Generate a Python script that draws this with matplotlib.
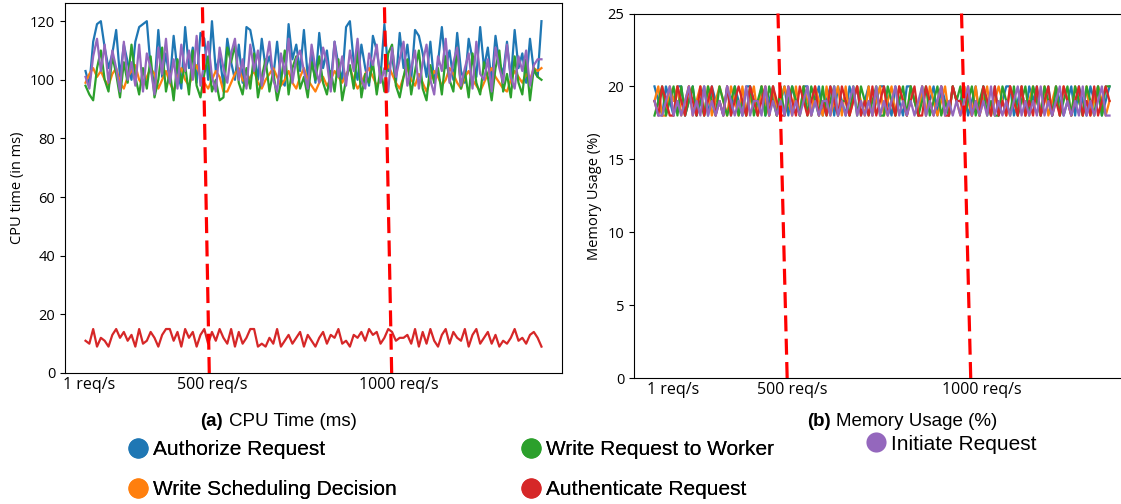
import matplotlib
matplotlib.use("Agg")
import matplotlib.pyplot as plt
from matplotlib.lines import Line2D
import numpy as np

# ── data ──────────────────────────────────────────────────────
SERIES = ["Authorize Request", "Write Scheduling Decision", "Write Request to Worker",
          "Authenticate Request", "Initiate Request"]
COLORS = ["#1f77b4", "#ff7f0e", "#2ca02c", "#d62728", "#9467bd"]

cpu_authorize = [
    103, 98, 113, 119, 120, 111, 104, 109, 117, 101, 112, 106, 100, 113, 118, 119, 120, 104, 98, 117,
    101, 109, 99, 115, 103, 97, 118, 104, 111, 99, 116, 114, 100, 120, 103, 108, 98, 114, 106, 100,
    112, 99, 118, 117, 110, 100, 114, 104, 108, 101, 113, 100, 98, 119, 107, 112, 103, 117, 101, 109,
    99, 116, 104, 110, 99, 113, 105, 100, 118, 120, 106, 100, 112, 104, 98, 115, 110, 101, 119, 103,
    108, 99, 116, 104, 112, 100, 117, 115, 109, 101, 113, 99, 106, 118, 104, 110, 100, 116, 103, 99,
    114, 107, 101, 118, 104, 111, 99, 115, 106, 102, 113, 100, 117, 104, 109, 99, 114, 103, 101, 120]
cpu_scheduling = [
    99, 102, 104, 101, 103, 100, 98, 102, 104, 99, 97, 101, 103, 105, 100, 98, 101, 104, 102, 97,
    100, 103, 99, 96, 101, 104, 100, 98, 102, 105, 101, 99, 97, 100, 103, 101, 96, 96, 99, 102,
    104, 100, 98, 101, 103, 99, 97, 100, 102, 104, 101, 98, 100, 103, 99, 97, 101, 104, 100, 98,
    96, 99, 101, 98, 100, 103, 101, 99, 102, 104, 100, 97, 99, 102, 104, 101, 98, 100, 103, 105,
    102, 99, 97, 101, 104, 100, 98, 102, 99, 96, 100, 103, 101, 98, 100, 104, 102, 99, 97, 101,
    103, 100, 98, 96, 99, 102, 104, 101, 99, 97, 96, 100, 103, 101, 99, 102, 100, 104, 103, 104]
cpu_worker = [
    98, 95, 93, 104, 110, 100, 96, 108, 102, 94, 106, 99, 112, 101, 95, 104, 97, 108, 94, 100,
    111, 96, 103, 93, 107, 99, 105, 95, 110, 98, 94, 102, 108, 96, 100, 93, 94, 111, 106, 112,
    99, 95, 104, 97, 109, 94, 101, 107, 96, 103, 93, 99, 110, 95, 104, 108, 97, 101, 94, 106,
    100, 108, 99, 95, 103, 96, 107, 93, 100, 105, 97, 110, 94, 102, 99, 106, 95, 104, 96, 109,
    112, 98, 94, 101, 107, 95, 103, 110, 97, 93, 105, 99, 104, 95, 108, 100, 96, 111, 97, 103,
    94, 109, 99, 95, 106, 101, 93, 104, 110, 96, 102, 94, 108, 99, 95, 107, 93, 104, 101, 100]
cpu_authenticate = [
    11, 10, 15, 9, 12, 11, 9, 13, 15, 12, 14, 11, 13, 9, 15, 10, 11, 14, 12, 9,
    13, 15, 15, 11, 14, 9, 15, 12, 14, 9, 13, 15, 10, 14, 11, 15, 12, 10, 15, 9,
    14, 10, 12, 15, 15, 9, 10, 9, 12, 10, 15, 9, 11, 13, 10, 12, 14, 9, 13, 11,
    9, 12, 14, 10, 13, 12, 15, 10, 11, 9, 13, 12, 14, 11, 15, 13, 14, 10, 12, 15,
    14, 11, 12, 12, 13, 10, 15, 9, 14, 10, 15, 11, 9, 13, 15, 10, 14, 12, 11, 15,
    9, 13, 15, 10, 12, 14, 10, 13, 9, 11, 10, 12, 15, 11, 12, 10, 13, 14, 12, 9]
cpu_initiate = [
    101, 97, 108, 114, 103, 112, 99, 110, 104, 96, 113, 100, 106, 98, 112, 96, 109, 104, 95, 111,
    102, 114, 99, 107, 97, 112, 103, 110, 100, 115, 98, 106, 113, 101, 96, 111, 104, 99, 109, 114,
    100, 107, 97, 112, 103, 110, 98, 105, 113, 100, 96, 109, 102, 114, 99, 107, 110, 103, 97, 112,
    104, 99, 111, 106, 96, 113, 101, 108, 98, 110, 103, 114, 100, 97, 109, 105, 112, 99, 104, 96,
    111, 101, 107, 113, 98, 104, 110, 97, 106, 112, 100, 95, 108, 103, 114, 99, 106, 111, 98, 104,
    109, 97, 113, 102, 100, 107, 96, 111, 104, 99, 112, 101, 97, 108, 103, 110, 98, 105, 107, 107]

mem_authorize = [
    20, 19, 18, 20, 19, 18, 20, 20, 18, 19, 20, 18, 19, 20, 18, 20, 19, 19, 18, 20,
    18, 20, 19, 18, 20, 20, 19, 18, 20, 18, 19, 20, 18, 19, 20, 18, 20, 19, 18, 20,
    20, 18, 19, 20, 18, 19, 20, 18, 20, 19, 18, 20, 19, 20, 18, 19, 20, 18, 19, 20,
    20, 19, 18, 20, 19, 18, 20, 20, 19, 18, 20, 18, 19, 20, 18, 20, 19, 18, 20, 19,
    19, 20, 18, 19, 20, 18, 20, 19, 18, 20, 18, 19, 20, 20, 18, 19, 20, 18, 20, 19,
    20, 18, 19, 20, 18, 20, 19, 18, 19, 20, 18, 20, 19, 18, 20, 19, 20, 18, 19, 20]
mem_scheduling = [
    19, 20, 18, 18, 20, 19, 20, 18, 19, 20, 18, 19, 20, 18, 20, 18, 19, 20, 19, 18,
    20, 19, 18, 20, 18, 19, 20, 18, 20, 19, 18, 20, 18, 19, 20, 19, 18, 20, 18, 20,
    19, 18, 20, 19, 18, 20, 18, 19, 20, 18, 20, 18, 19, 20, 19, 18, 20, 18, 19, 20,
    18, 19, 20, 18, 20, 19, 18, 20, 19, 18, 20, 18, 20, 19, 18, 19, 20, 18, 20, 19,
    18, 20, 19, 18, 20, 18, 19, 20, 18, 19, 20, 19, 18, 20, 19, 18, 20, 18, 19, 20,
    19, 18, 20, 18, 19, 20, 18, 20, 19, 18, 20, 19, 18, 20, 18, 19, 20, 19, 18, 19]
mem_worker = [
    18, 19, 20, 18, 19, 20, 18, 20, 18, 19, 20, 18, 19, 18, 20, 19, 18, 20, 19, 18,
    19, 20, 18, 19, 18, 20, 18, 19, 20, 18, 20, 19, 18, 20, 18, 19, 20, 19, 18, 20,
    18, 20, 19, 18, 20, 18, 19, 20, 18, 19, 19, 18, 20, 18, 20, 19, 18, 19, 20, 18,
    18, 20, 19, 18, 19, 20, 18, 20, 19, 18, 19, 20, 18, 19, 20, 18, 19, 18, 20, 19,
    20, 18, 19, 20, 18, 19, 20, 18, 19, 18, 18, 20, 19, 18, 20, 18, 19, 20, 18, 20,
    19, 18, 20, 19, 18, 20, 18, 19, 20, 18, 20, 19, 18, 20, 19, 18, 20, 18, 20, 20]
mem_authenticate = [
    19, 18, 20, 19, 18, 18, 20, 19, 18, 20, 19, 18, 20, 18, 19, 20, 18, 19, 18, 20,
    18, 19, 20, 19, 18, 20, 19, 18, 19, 20, 18, 20, 19, 18, 18, 20, 19, 18, 20, 19,
    18, 19, 20, 18, 19, 18, 20, 19, 18, 20, 19, 18, 19, 20, 18, 19, 18, 20, 18, 19,
    20, 18, 19, 18, 20, 19, 18, 19, 20, 18, 18, 20, 19, 18, 19, 20, 18, 18, 20, 19,
    19, 18, 20, 18, 19, 18, 20, 19, 18, 20, 18, 19, 18, 20, 19, 18, 20, 18, 19, 18,
    20, 18, 19, 20, 18, 19, 18, 20, 19, 18, 19, 20, 18, 19, 18, 20, 18, 19, 20, 19]
mem_initiate = [
    19, 18, 18, 19, 20, 18, 19, 18, 19, 20, 18, 19, 18, 20, 18, 19, 18, 19, 18, 20,
    19, 18, 19, 18, 20, 18, 19, 19, 18, 20, 18, 19, 18, 19, 18, 20, 18, 19, 18, 19,
    20, 18, 19, 18, 19, 19, 18, 20, 18, 19, 18, 19, 20, 18, 19, 18, 19, 18, 20, 18,
    19, 18, 19, 20, 18, 19, 18, 19, 18, 19, 20, 18, 19, 18, 19, 20, 18, 19, 18, 19,
    18, 19, 20, 18, 19, 18, 19, 18, 20, 18, 19, 18, 19, 18, 19, 20, 18, 19, 18, 19,
    18, 20, 18, 19, 18, 19, 20, 18, 19, 18, 19, 18, 20, 18, 19, 18, 19, 20, 18, 18]

cpu_data = [cpu_authorize, cpu_scheduling, cpu_worker, cpu_authenticate, cpu_initiate]
mem_data = [mem_authorize, mem_scheduling, mem_worker, mem_authenticate, mem_initiate]

# x tick labels and their sample positions
load_labels = ["1 req/s", "500 req/s", "1000 req/s"]
cpu_tick_pos = [1.0, 33.2, 81.8]
mem_tick_pos = [4.8, 36.0, 85.5]
# load-change markers (slanted as in the source): (x at bottom, x at top)
cpu_marks = [(32.3, 30.5), (79.9, 78.0)]
mem_marks = [(34.7, 32.3), (82.7, 80.3)]

TICK_FONT = ["Open Sans", "DejaVu Sans"]
TEXT_FONT = ["Liberation Sans", "DejaVu Sans"]

W, H = 1121, 504
fig = plt.figure(figsize=(W / 100, H / 100), dpi=100)


def px_axes(x0, y0, x1, y1):
    return fig.add_axes([x0 / W, 1 - y1 / H, (x1 - x0) / W, (y1 - y0) / H])


def style(ax, ylabel, series, tick_pos, ylim, marks):
    for vals, c in zip(series, COLORS):
        ax.plot(np.arange(len(vals)), vals, color=c, linewidth=1.6)
    ax.margins(x=0.045)
    ax.set_ylim(*ylim)
    for xb, xt in marks:
        ax.plot([xb, xt], list(ylim), color="red", linewidth=2.3,
                dashes=(5, 2.3), zorder=5, clip_on=False)
    ax.set_xticks(tick_pos)
    ax.set_xticklabels(load_labels, fontsize=11.5, family=TICK_FONT)
    ax.tick_params(axis="x", length=0, pad=3)
    ax.tick_params(axis="y", labelsize=10.5)
    for lbl in ax.get_yticklabels():
        lbl.set_family(TICK_FONT)
    ax.set_ylabel(ylabel, fontsize=10.5, family=TICK_FONT)


# ── (a) CPU time ──
ax1 = px_axes(65, 3, 562, 373)
style(ax1, "CPU time (in ms)", cpu_data, cpu_tick_pos, (0, 126.2), cpu_marks)
ax1.set_yticks([0, 20, 40, 60, 80, 100, 120])

# ── (b) Memory usage ──
ax2 = px_axes(634, 13.5, 1130, 378)
style(ax2, "Memory Usage (%)", mem_data, mem_tick_pos, (0, 25), mem_marks)
ax2.set_yticks([0, 5, 10, 15, 20, 25])

# captions
fig.text(200 / W, 1 - 421 / H, "(a)", fontsize=13.5, fontweight="bold", family=TEXT_FONT, va="center")
fig.text(229 / W, 1 - 421 / H, "CPU Time (ms)", fontsize=13.5, family=TEXT_FONT, va="center")
fig.text(807 / W, 1 - 421 / H, "(b)", fontsize=13.5, fontweight="bold", family=TEXT_FONT, va="center")
fig.text(836 / W, 1 - 421 / H, "Memory Usage (%)", fontsize=13.5, family=TEXT_FONT, va="center")

# legend
handles = [Line2D([], [], marker="o", linestyle="", markersize=14.5, markeredgewidth=0, color=c)
           for c in COLORS]
leg1 = fig.legend(handles[:4], SERIES[:4], ncol=2, loc="upper left",
                  bbox_to_anchor=(128 / W, 1 - 440 / H), frameon=False,
                  prop={"family": TEXT_FONT, "size": 15}, handlelength=1.0,
                  handletextpad=0.22, columnspacing=5.9, labelspacing=1.0,
                  borderpad=0, borderaxespad=0)
fig.legend(handles[4:], SERIES[4:], loc="center left",
           bbox_to_anchor=(866 / W, 1 - 444 / H), frameon=False,
           prop={"family": TEXT_FONT, "size": 15}, handlelength=1.0,
           handletextpad=0.22, borderpad=0, borderaxespad=0)
fig.add_artist(leg1)

fig.savefig("out.png", dpi=100)
